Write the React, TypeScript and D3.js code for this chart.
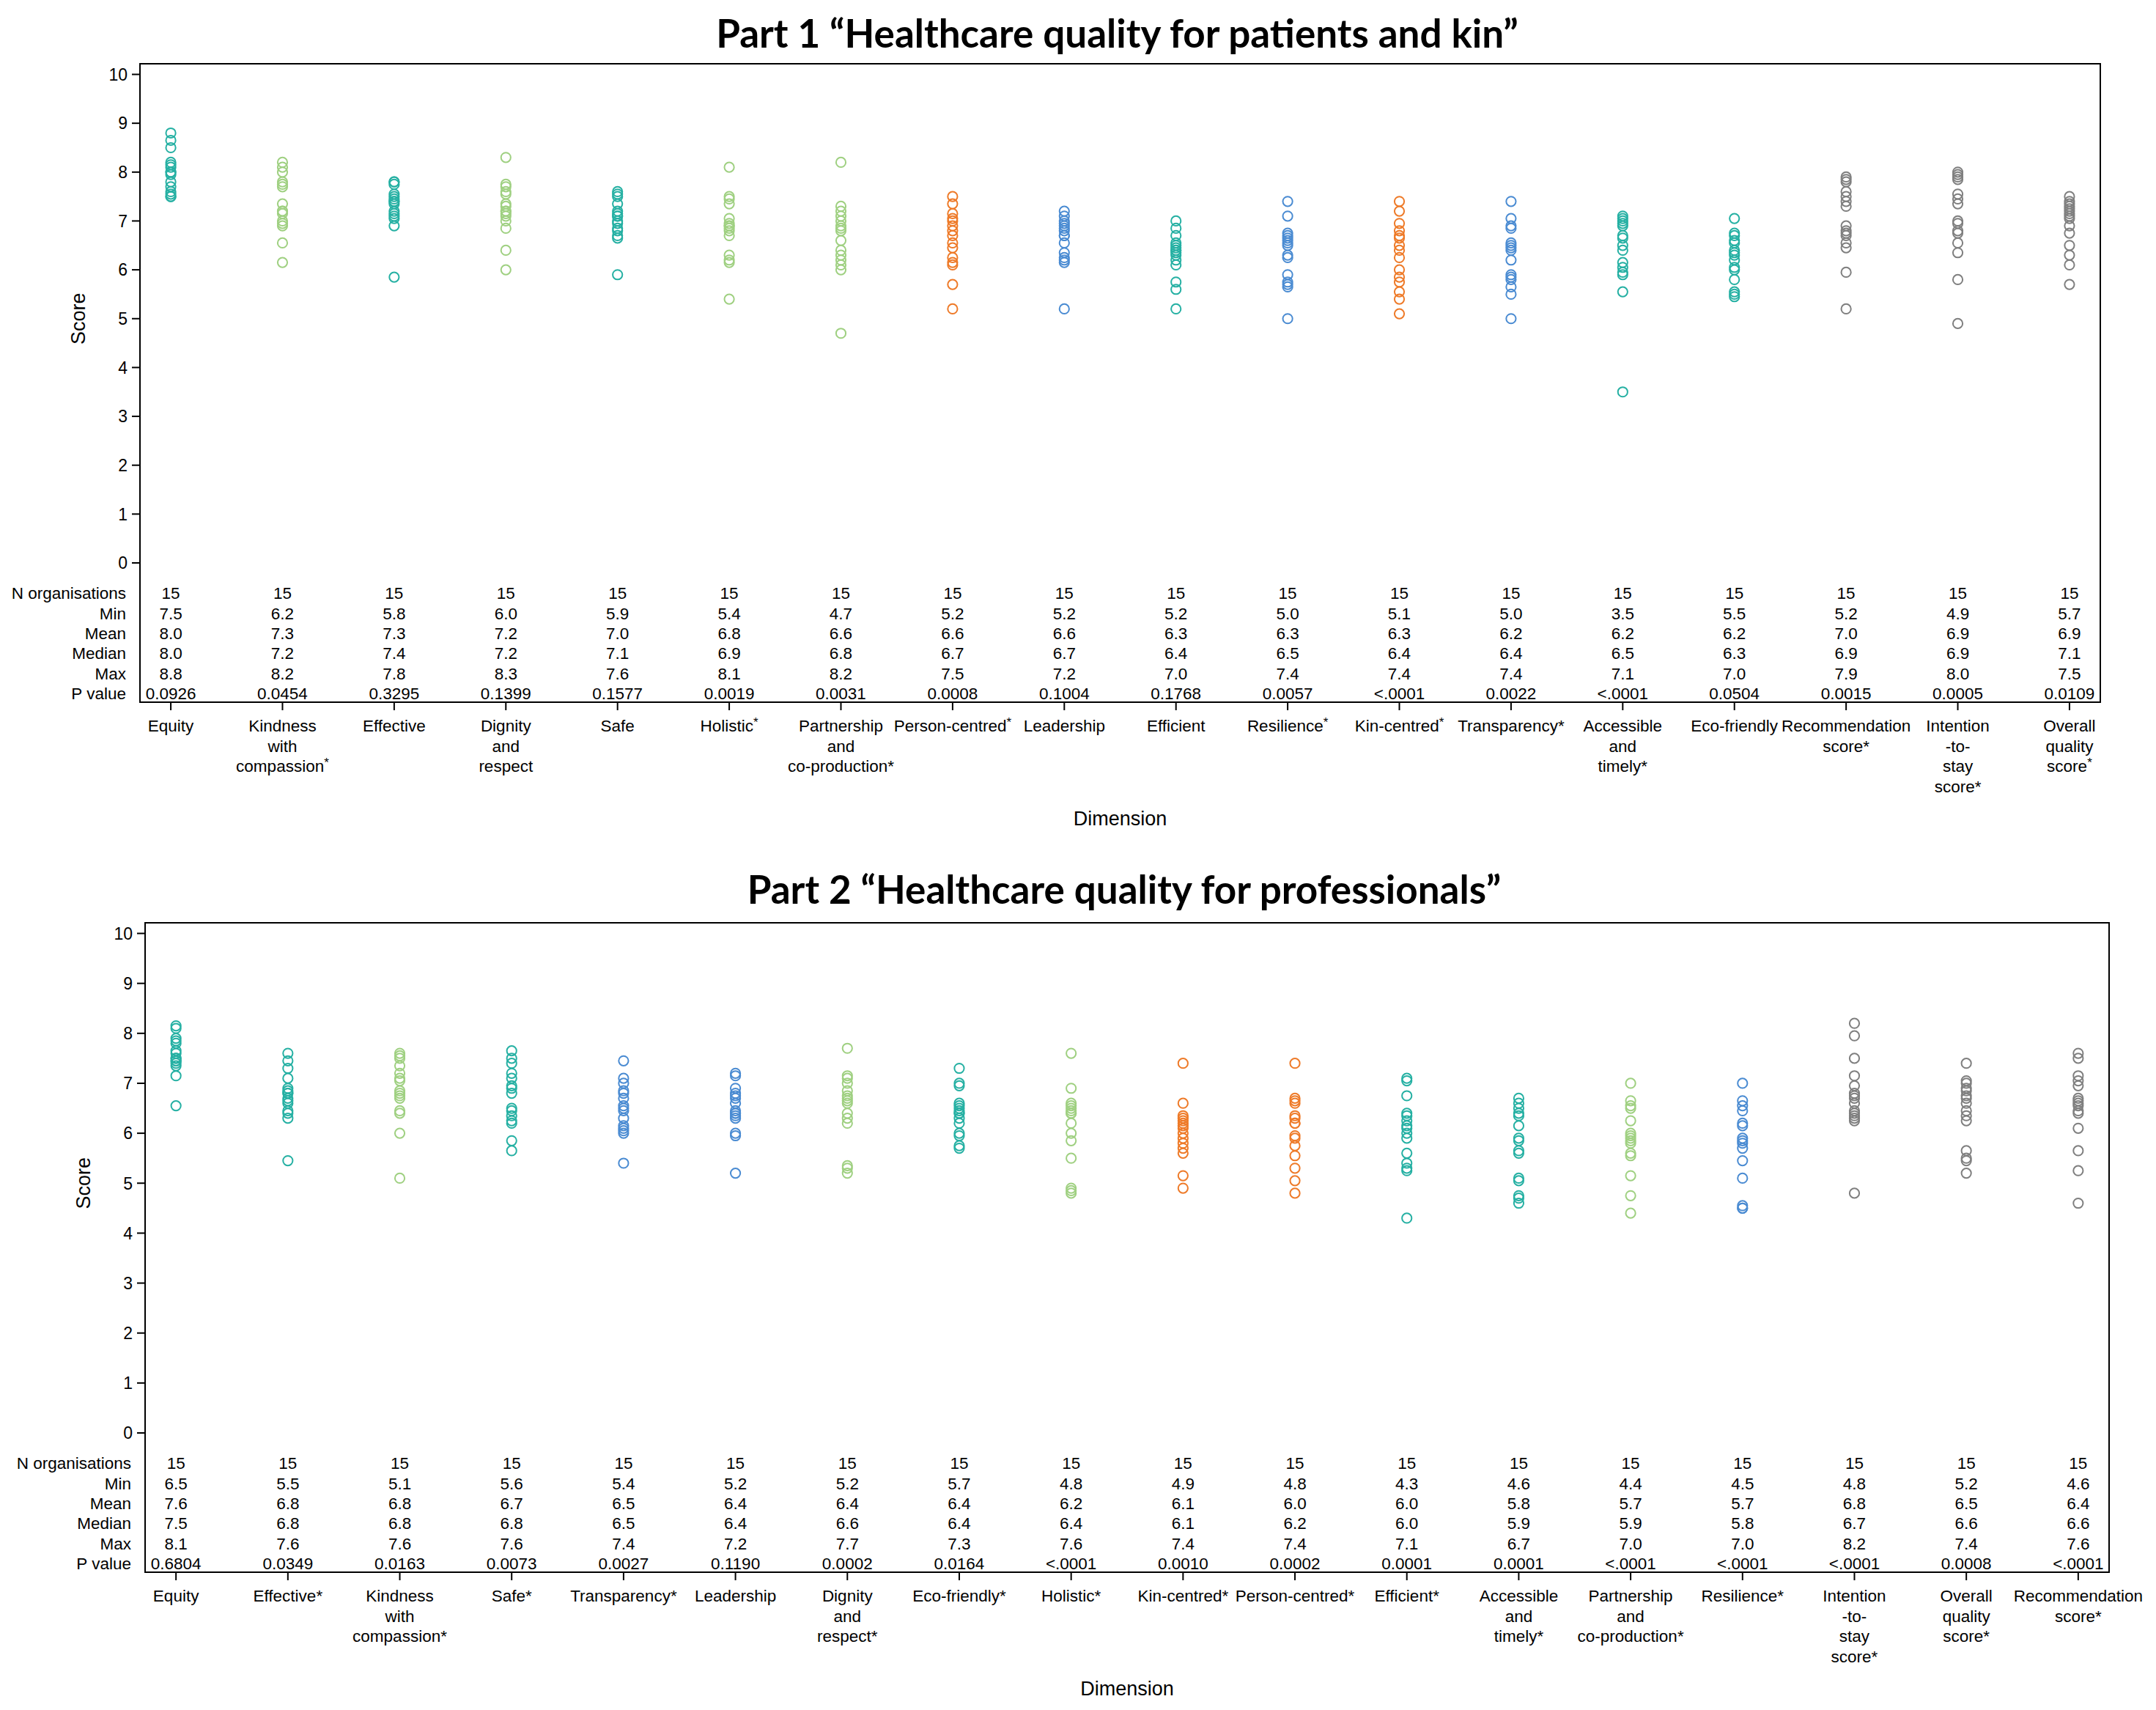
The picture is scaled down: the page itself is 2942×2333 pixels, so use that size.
import { useEffect } from 'react';
import * as d3 from 'd3';

const VW = 2942, VH = 2333;
const FONT = '"Liberation Sans", Arial, Helvetica, sans-serif';

// '\n' breaks a tick label, '^' = raised asterisk
const P1_DIMS = [
  'Equity', 'Kindness\nwith\ncompassion^', 'Effective', 'Dignity\nand\nrespect', 'Safe', 'Holistic^',
  'Partnership\nand\nco-production*', 'Person-centred^', 'Leadership', 'Efficient', 'Resilience^', 'Kin-centred^',
  'Transparency*', 'Accessible\nand\ntimely*', 'Eco-friendly', 'Recommendation\nscore*', 'Intention\n-to-\nstay\nscore*',
  'Overall\nquality\nscore^',
];
const P1_SCORES = [
  [8.8, 8.65, 8.5, 8.2, 8.15, 8.1, 8.0, 8.0, 7.95, 7.8, 7.7, 7.6, 7.55, 7.5, 7.5],
  [8.2, 8.1, 8.0, 7.8, 7.75, 7.7, 7.35, 7.2, 7.2, 7.15, 7.0, 6.95, 6.9, 6.55, 6.15],
  [7.8, 7.8, 7.75, 7.55, 7.5, 7.45, 7.4, 7.4, 7.35, 7.2, 7.15, 7.1, 7.05, 6.9, 5.85],
  [8.3, 7.75, 7.7, 7.6, 7.55, 7.35, 7.3, 7.2, 7.2, 7.15, 7.1, 7.0, 6.85, 6.4, 6.0],
  [7.6, 7.55, 7.5, 7.35, 7.2, 7.15, 7.1, 7.1, 7.0, 6.95, 6.85, 6.8, 6.7, 6.65, 5.9],
  [8.1, 7.5, 7.45, 7.35, 7.05, 6.95, 6.9, 6.9, 6.85, 6.8, 6.7, 6.3, 6.2, 6.15, 5.4],
  [8.2, 7.3, 7.2, 7.1, 7.0, 6.9, 6.85, 6.8, 6.6, 6.4, 6.3, 6.2, 6.1, 6.0, 4.7],
  [7.5, 7.35, 7.15, 7.05, 7.0, 6.9, 6.8, 6.7, 6.55, 6.45, 6.25, 6.15, 6.1, 5.7, 5.2],
  [7.2, 7.1, 7.0, 6.95, 6.9, 6.85, 6.8, 6.7, 6.7, 6.55, 6.35, 6.25, 6.2, 6.15, 5.2],
  [7.0, 6.85, 6.7, 6.55, 6.5, 6.45, 6.4, 6.4, 6.35, 6.3, 6.2, 6.1, 5.75, 5.6, 5.2],
  [7.4, 7.1, 6.75, 6.7, 6.65, 6.6, 6.55, 6.5, 6.3, 6.25, 5.9, 5.75, 5.7, 5.65, 5.0],
  [7.4, 7.2, 6.95, 6.8, 6.7, 6.65, 6.5, 6.4, 6.25, 6.0, 5.85, 5.75, 5.55, 5.4, 5.1],
  [7.4, 7.05, 6.9, 6.85, 6.55, 6.5, 6.45, 6.4, 6.2, 5.9, 5.85, 5.8, 5.65, 5.5, 5.0],
  [7.1, 7.05, 7.0, 6.95, 6.9, 6.7, 6.65, 6.5, 6.4, 6.15, 6.05, 5.95, 5.9, 5.55, 3.5],
  [7.05, 6.75, 6.7, 6.6, 6.55, 6.4, 6.35, 6.3, 6.2, 6.05, 6.0, 5.8, 5.55, 5.5, 5.45],
  [7.9, 7.85, 7.8, 7.6, 7.5, 7.4, 7.3, 6.9, 6.8, 6.75, 6.7, 6.55, 6.45, 5.95, 5.2],
  [8.0, 7.95, 7.9, 7.85, 7.55, 7.45, 7.35, 7.0, 6.95, 6.8, 6.75, 6.55, 6.35, 5.8, 4.9],
  [7.5, 7.4, 7.35, 7.3, 7.25, 7.2, 7.15, 7.1, 7.05, 6.9, 6.75, 6.5, 6.3, 6.1, 5.7],
];
const P1_N = ['15', '15', '15', '15', '15', '15', '15', '15', '15', '15', '15', '15', '15', '15', '15', '15', '15', '15'];
const P1_MIN = ['7.5', '6.2', '5.8', '6.0', '5.9', '5.4', '4.7', '5.2', '5.2', '5.2', '5.0', '5.1', '5.0', '3.5', '5.5', '5.2', '4.9', '5.7'];
const P1_MEAN = ['8.0', '7.3', '7.3', '7.2', '7.0', '6.8', '6.6', '6.6', '6.6', '6.3', '6.3', '6.3', '6.2', '6.2', '6.2', '7.0', '6.9', '6.9'];
const P1_MEDIAN = ['8.0', '7.2', '7.4', '7.2', '7.1', '6.9', '6.8', '6.7', '6.7', '6.4', '6.5', '6.4', '6.4', '6.5', '6.3', '6.9', '6.9', '7.1'];
const P1_MAX = ['8.8', '8.2', '7.8', '8.3', '7.6', '8.1', '8.2', '7.5', '7.2', '7.0', '7.4', '7.4', '7.4', '7.1', '7.0', '7.9', '8.0', '7.5'];
const P1_PVAL = ['0.0926', '0.0454', '0.3295', '0.1399', '0.1577', '0.0019', '0.0031', '0.0008', '0.1004', '0.1768', '0.0057', '<.0001', '0.0022', '<.0001', '0.0504', '0.0015', '0.0005', '0.0109'];

const P2_DIMS = [
  'Equity', 'Effective*', 'Kindness\nwith\ncompassion*', 'Safe*', 'Transparency*', 'Leadership',
  'Dignity\nand\nrespect*', 'Eco-friendly*', 'Holistic*', 'Kin-centred*', 'Person-centred*', 'Efficient*',
  'Accessible\nand\ntimely*', 'Partnership\nand\nco-production*', 'Resilience*', 'Intention\n-to-\nstay\nscore*',
  'Overall\nquality\nscore*', 'Recommendation\nscore*',
];
const P2_SCORES = [
  [8.15, 8.1, 7.9, 7.85, 7.8, 7.65, 7.6, 7.5, 7.5, 7.45, 7.45, 7.4, 7.35, 7.15, 6.55],
  [7.6, 7.45, 7.3, 7.1, 6.9, 6.85, 6.8, 6.8, 6.7, 6.65, 6.6, 6.45, 6.4, 6.3, 5.45],
  [7.6, 7.55, 7.5, 7.35, 7.2, 7.1, 7.05, 6.85, 6.8, 6.75, 6.7, 6.45, 6.4, 6.0, 5.1],
  [7.65, 7.5, 7.4, 7.2, 7.1, 6.95, 6.9, 6.8, 6.5, 6.45, 6.35, 6.25, 6.2, 5.85, 5.65],
  [7.45, 7.1, 7.0, 6.85, 6.8, 6.7, 6.55, 6.5, 6.45, 6.3, 6.15, 6.1, 6.05, 6.0, 5.4],
  [7.2, 7.15, 6.9, 6.8, 6.75, 6.7, 6.6, 6.45, 6.4, 6.4, 6.35, 6.3, 6.0, 5.95, 5.2],
  [7.7, 7.15, 7.1, 7.0, 6.85, 6.75, 6.7, 6.65, 6.6, 6.4, 6.3, 6.2, 5.35, 5.3, 5.2],
  [7.3, 7.0, 6.95, 6.6, 6.55, 6.5, 6.45, 6.4, 6.4, 6.3, 6.2, 6.0, 5.95, 5.75, 5.7],
  [7.6, 6.9, 6.6, 6.55, 6.5, 6.45, 6.4, 6.4, 6.2, 6.0, 5.85, 5.5, 4.9, 4.85, 4.8],
  [7.4, 6.6, 6.35, 6.3, 6.25, 6.2, 6.15, 6.1, 6.0, 5.9, 5.8, 5.7, 5.6, 5.15, 4.9],
  [7.4, 6.7, 6.65, 6.6, 6.35, 6.3, 6.2, 6.2, 5.95, 5.9, 5.75, 5.55, 5.3, 5.05, 4.8],
  [7.1, 7.05, 6.75, 6.4, 6.35, 6.25, 6.15, 6.1, 6.0, 5.9, 5.6, 5.4, 5.3, 5.25, 4.3],
  [6.7, 6.6, 6.5, 6.4, 6.35, 6.15, 5.9, 5.85, 5.65, 5.6, 5.1, 5.05, 4.75, 4.7, 4.6],
  [7.0, 6.65, 6.55, 6.5, 6.25, 6.0, 5.95, 5.9, 5.85, 5.8, 5.6, 5.55, 5.15, 4.75, 4.4],
  [7.0, 6.65, 6.55, 6.45, 6.2, 6.15, 5.9, 5.85, 5.8, 5.7, 5.45, 5.1, 4.55, 4.5, 4.5],
  [8.2, 7.95, 7.5, 7.15, 6.95, 6.8, 6.75, 6.7, 6.6, 6.45, 6.4, 6.35, 6.3, 6.25, 4.8],
  [7.4, 7.05, 7.0, 6.9, 6.85, 6.75, 6.7, 6.6, 6.45, 6.35, 6.25, 5.65, 5.5, 5.45, 5.2],
  [7.6, 7.5, 7.15, 7.05, 6.95, 6.7, 6.65, 6.6, 6.55, 6.45, 6.4, 6.1, 5.65, 5.25, 4.6],
];
const P2_N = P1_N;
const P2_MIN = ['6.5', '5.5', '5.1', '5.6', '5.4', '5.2', '5.2', '5.7', '4.8', '4.9', '4.8', '4.3', '4.6', '4.4', '4.5', '4.8', '5.2', '4.6'];
const P2_MEAN = ['7.6', '6.8', '6.8', '6.7', '6.5', '6.4', '6.4', '6.4', '6.2', '6.1', '6.0', '6.0', '5.8', '5.7', '5.7', '6.8', '6.5', '6.4'];
const P2_MEDIAN = ['7.5', '6.8', '6.8', '6.8', '6.5', '6.4', '6.6', '6.4', '6.4', '6.1', '6.2', '6.0', '5.9', '5.9', '5.8', '6.7', '6.6', '6.6'];
const P2_MAX = ['8.1', '7.6', '7.6', '7.6', '7.4', '7.2', '7.7', '7.3', '7.6', '7.4', '7.4', '7.1', '6.7', '7.0', '7.0', '8.2', '7.4', '7.6'];
const P2_PVAL = ['0.6804', '0.0349', '0.0163', '0.0073', '0.0027', '0.1190', '0.0002', '0.0164', '<.0001', '0.0010', '0.0002', '0.0001', '0.0001', '<.0001', '<.0001', '<.0001', '0.0008', '<.0001'];

const ROW_LABELS = ['N organisations', 'Min', 'Mean', 'Median', 'Max', 'P value'];
const Y_TICKS = [0, 1, 2, 3, 4, 5, 6, 7, 8, 9, 10];

// dimension -> colour family
const TEAL_DIMS = ['Equity', 'Effective', 'Safe', 'Efficient', 'Accessible and timely', 'Eco-friendly'];
const GREEN_DIMS = ['Kindness with compassion', 'Dignity and respect', 'Holistic', 'Partnership and co-production'];
const ORANGE_DIMS = ['Person-centred', 'Kin-centred'];
const BLUE_DIMS = ['Leadership', 'Resilience', 'Transparency'];

const baseName = (s: string) => s.replace(/[*^]/g, '').split('\n').join(' ');
const colorOf = (dim: string) => {
  const b = baseName(dim);
  if (TEAL_DIMS.includes(b)) return '#25b0a3';
  if (GREEN_DIMS.includes(b)) return '#9fd081';
  if (ORANGE_DIMS.includes(b)) return '#ee7a28';
  if (BLUE_DIMS.includes(b)) return '#4a8bd2';
  return '#7f7f7f';
};

type PanelProps = {
  title: string;
  dims: string[];
  scores: number[][];
  rows: string[][];
  box: { top: number; left: number; right: number; y10: number; y0: number; titleY: number };
};

function Panel({ title, dims, scores, rows, box }: PanelProps) {
  const { top, left, right, y10, y0, titleY } = box;
  const x = d3.scalePoint<number>().domain(dims.map((_, i) => i)).range([left, right]).padding(0.276);
  const y = d3.scaleLinear().domain([0, 10]).range([y0, y10]);
  const rowY = (r: number) => y0 + 41 + r * 27.4;
  const axisY = y0 + 190;
  const labY = axisY + 32;
  const cx = (left + right) / 2;

  return (
    <g fontFamily={FONT} fill="#000">
      <text x={cx - 4} y={titleY} textAnchor="middle" fontFamily='Lato, "Open Sans", sans-serif' fontWeight={700} fontSize={53}>{title}</text>

      {/* y axis */}
      {Y_TICKS.map(t => (
        <g key={t}>
          <line x1={left - 11} x2={left} y1={y(t)} y2={y(t)} stroke="#000" strokeWidth={2} />
          <text x={left - 17} y={y(t)} dy="0.36em" textAnchor="end" fontSize={23}>{t}</text>
        </g>
      ))}
      <text transform={`translate(${left - 84},${(y0 + y10) / 2}) rotate(-90)`} textAnchor="middle" dy="0.35em" fontSize={27}>Score</text>

      {/* points */}
      {scores.map((vals, i) => vals.map((v, j) => (
        <circle key={i + '-' + j} cx={x(i)} cy={y(v)} r={6.6} fill="none" stroke={colorOf(dims[i])} strokeWidth={2} />
      )))}

      {/* stats table */}
      {ROW_LABELS.map((lab, r) => (
        <g key={lab}>
          <text x={left - 19} y={rowY(r)} dy="0.36em" textAnchor="end" fontSize={22.5}>{lab}</text>
          {rows[r].map((v, i) => (
            <text key={i} x={x(i)} y={rowY(r)} dy="0.36em" textAnchor="middle" fontSize={22.5}>{v}</text>
          ))}
        </g>
      ))}

      <rect x={left} y={top} width={right - left} height={axisY - top} fill="none" stroke="#000" strokeWidth={2} />

      {/* x axis */}
      {dims.map((d, i) => (
        <g key={d}>
          <line x1={x(i)} x2={x(i)} y1={axisY} y2={axisY + 11} stroke="#000" strokeWidth={2} />
          {d.split('\n').map((ln, k) => (
            <text key={k} x={x(i)} y={labY + k * 27.5} dy="0.36em" textAnchor="middle" fontSize={22.5}>
              {ln.replace('^', '')}
              {ln.endsWith('^') && <tspan dy={-7} fontSize={17}>*</tspan>}
            </text>
          ))}
        </g>
      ))}
      <text x={cx} y={axisY + 158} dy="0.36em" textAnchor="middle" fontSize={27}>Dimension</text>
    </g>
  );
}

export default function App() {
  useEffect(() => { document.body.style.margin = '0'; }, []);

  return (
    <svg width={VW} height={VH} viewBox={`0 0 ${VW} ${VH}`} style={{ display: 'block', background: '#fff' }}>
      <Panel
        title={'Part 1 \u201cHealthcare quality for patients and kin\u201d'}
        dims={P1_DIMS}
        scores={P1_SCORES}
        rows={[P1_N, P1_MIN, P1_MEAN, P1_MEDIAN, P1_MAX, P1_PVAL]}
        box={{ top: 87, left: 191, right: 2866, y10: 101.5, y0: 768, titleY: 65 }}
      />
      <Panel
        title={'Part 2 \u201cHealthcare quality for professionals\u201d'}
        dims={P2_DIMS}
        scores={P2_SCORES}
        rows={[P2_N, P2_MIN, P2_MEAN, P2_MEDIAN, P2_MAX, P2_PVAL]}
        box={{ top: 1259, left: 198, right: 2878, y10: 1273.5, y0: 1955, titleY: 1233 }}
      />
    </svg>
  );
}
